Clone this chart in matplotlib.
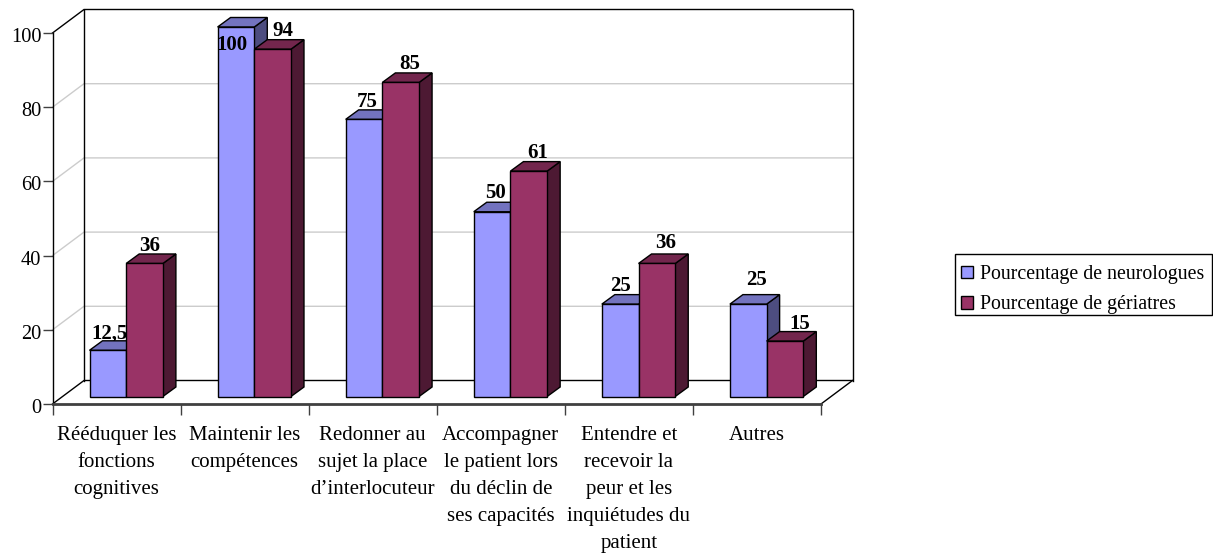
import matplotlib
matplotlib.use('Agg')
import matplotlib.pyplot as plt
from matplotlib.patches import Polygon, Patch, Rectangle
from matplotlib.transforms import ScaledTranslation

plt.rcParams['font.family'] = ['Liberation Serif', 'DejaVu Serif']

categories = [
    'Rééduquer les\nfonctions\ncognitives',
    'Maintenir les\ncompétences',
    'Redonner au\nsujet la place\nd’interlocuteur',
    'Accompagner\nle patient lors\ndu déclin de\nses capacités',
    'Entendre et\nrecevoir la\npeur et les\ninquiétudes du\npatient',
    'Autres',
]
neurologues = [12.5, 100, 75, 50, 25, 25]
geriatres = [36, 94, 85, 61, 36, 15]
neuro_labels = ['12,5', '100', '75', '50', '25', '25']
geri_labels = ['36', '94', '85', '61', '36', '15']
y_ticks = [0, 20, 40, 60, 80, 100]

# décalage des étiquettes par rapport au centre / haut de la barre, en pixels
neuro_label_dx = [2, -4, 2.7, 3, 0, 8.5]
neuro_label_dy = [17, -18, 17, 19, 18, 24]
geri_label_dx = [5.5, 10, 9, 8.5, 9, 15]
geri_label_dy = [17, 18, 18, 18, 20, 17]

FIG_W, FIG_H = 1213, 554
LEFT, RIGHT = 52.5, 821.0
BOTTOM, TOP = 404.0, 33.0
px_x = 6 / (RIGHT - LEFT)
px_y = 100 / (BOTTOM - TOP)

# profondeur du mur et des barres, en pixels convertis en unités de données
WALL_DX, WALL_DY = 31.5 * px_x, 23.5 * px_y
BAR_OFF_X, BAR_OFF_Y = 37 * px_x, 7.5 * px_y
BAR_W = 36.7 * px_x
DEPTH_DX, DEPTH_DY = 13 * px_x, 9.5 * px_y
LABEL_SIZE = 15


def draw_bar(ax, x, val, colors):
    front, top, side = colors
    y0 = BAR_OFF_Y
    y1 = BAR_OFF_Y + val * (369.5 / 371)
    kw = dict(edgecolor='black', linewidth=1.0, clip_on=False, joinstyle='miter', zorder=4)
    ax.add_patch(Polygon([(x + BAR_W, y0), (x + BAR_W + DEPTH_DX, y0 + DEPTH_DY),
                          (x + BAR_W + DEPTH_DX, y1 + DEPTH_DY), (x + BAR_W, y1)], facecolor=side, **kw))
    ax.add_patch(Polygon([(x, y1), (x + BAR_W, y1), (x + BAR_W + DEPTH_DX, y1 + DEPTH_DY),
                          (x + DEPTH_DX, y1 + DEPTH_DY)], facecolor=top, **kw))
    ax.add_patch(Polygon([(x, y0), (x + BAR_W, y0), (x + BAR_W, y1), (x, y1)], facecolor=front, **kw))
    return y1


fig = plt.figure(figsize=(FIG_W / 100, FIG_H / 100), dpi=100)
ax = fig.add_axes([LEFT / FIG_W, 1 - BOTTOM / FIG_H, (RIGHT - LEFT) / FIG_W, (BOTTOM - TOP) / FIG_H])
ax.set_xlim(0, 6)
ax.set_ylim(0, 100)
ax.patch.set_visible(False)

# murs et grille
for v in y_ticks:
    is_edge = v in (0, 100)
    color = 'black' if is_edge else '#cccccc'
    ax.plot([0, WALL_DX, 6 + WALL_DX], [v, v + WALL_DY, v + WALL_DY], color=color, lw=1.0,
            clip_on=False, zorder=1, solid_joinstyle='miter')
ax.plot([WALL_DX, WALL_DX], [WALL_DY, 100 + WALL_DY], color='black', lw=1.0, clip_on=False, zorder=1)
ax.plot([6 + WALL_DX, 6 + WALL_DX], [WALL_DY, 100 + WALL_DY], color='black', lw=1.0, clip_on=False, zorder=1)
ax.plot([6, 6 + WALL_DX], [0, WALL_DY], color='black', lw=1.0, clip_on=False, zorder=1)

neuro_colors = ('#9999FF', '#7373BF', '#4D4D80')
geri_colors = ('#993366', '#73264D', '#4D1933')

for i in range(len(categories)):
    x1 = i + BAR_OFF_X
    x2 = x1 + BAR_W
    top1 = draw_bar(ax, x1, neurologues[i], neuro_colors)
    top2 = draw_bar(ax, x2, geriatres[i], geri_colors)
    # 12,5 passe derrière la barre voisine, comme dans l'original
    ax.text(x1 + BAR_W / 2 + neuro_label_dx[i] * px_x, top1 + neuro_label_dy[i] * px_y, neuro_labels[i],
            ha='center', va='center', fontsize=LABEL_SIZE, fontweight='bold',
            zorder=3 if i == 0 else 6, clip_on=False)
    ax.text(x2 + BAR_W / 2 + geri_label_dx[i] * px_x, top2 + geri_label_dy[i] * px_y, geri_labels[i],
            ha='center', va='center', fontsize=LABEL_SIZE, fontweight='bold', zorder=6, clip_on=False)

for name in ('top', 'right'):
    ax.spines[name].set_visible(False)
ax.spines['left'].set_linewidth(1.0)
ax.spines['bottom'].set_linewidth(2.0)
ax.spines['bottom'].set_color('#404040')
ax.spines['left'].set_zorder(2)
ax.spines['bottom'].set_zorder(2)

ax.set_yticks(y_ticks)
ax.tick_params(axis='y', labelsize=14.7, length=7, width=1.0, pad=1, color='#404040')
shift = ScaledTranslation(0, -2 / 100, fig.dpi_scale_trans)
for lab in ax.get_yticklabels():
    lab.set_transform(lab.get_transform() + shift)
ax.set_xticks(range(7))
ax.set_xticklabels([])
ax.tick_params(axis='x', which='major', length=8, width=1.0, color='#404040')
ax.set_xticks([i + 0.5 for i in range(6)], minor=True)
ax.set_xticklabels(categories, minor=True, fontsize=15, linespacing=1.58)
ax.tick_params(axis='x', which='minor', length=0, pad=15.5)

# cadre à part : dans l'original le texte n'est pas centré dans la boîte
fig.add_artist(Rectangle((955 / FIG_W, 1 - 314.5 / FIG_H), 256.5 / FIG_W, 60.5 / FIG_H, transform=fig.transFigure,
                         facecolor='white', edgecolor='black', linewidth=1.0))
handles = [Patch(facecolor=neuro_colors[0], edgecolor='black', label='Pourcentage de neurologues'),
           Patch(facecolor=geri_colors[0], edgecolor='black', label='Pourcentage de gériatres')]
fig.legend(handles=handles, loc='upper left', bbox_to_anchor=(955 / FIG_W, 1 - 259 / FIG_H),
           borderaxespad=0, fontsize=14.3, frameon=False,
           handlelength=0.6, handleheight=0.6, handletextpad=0.37, borderpad=0.31, labelspacing=0.56)

fig.savefig('out.png', dpi=100)
plt.close(fig)
